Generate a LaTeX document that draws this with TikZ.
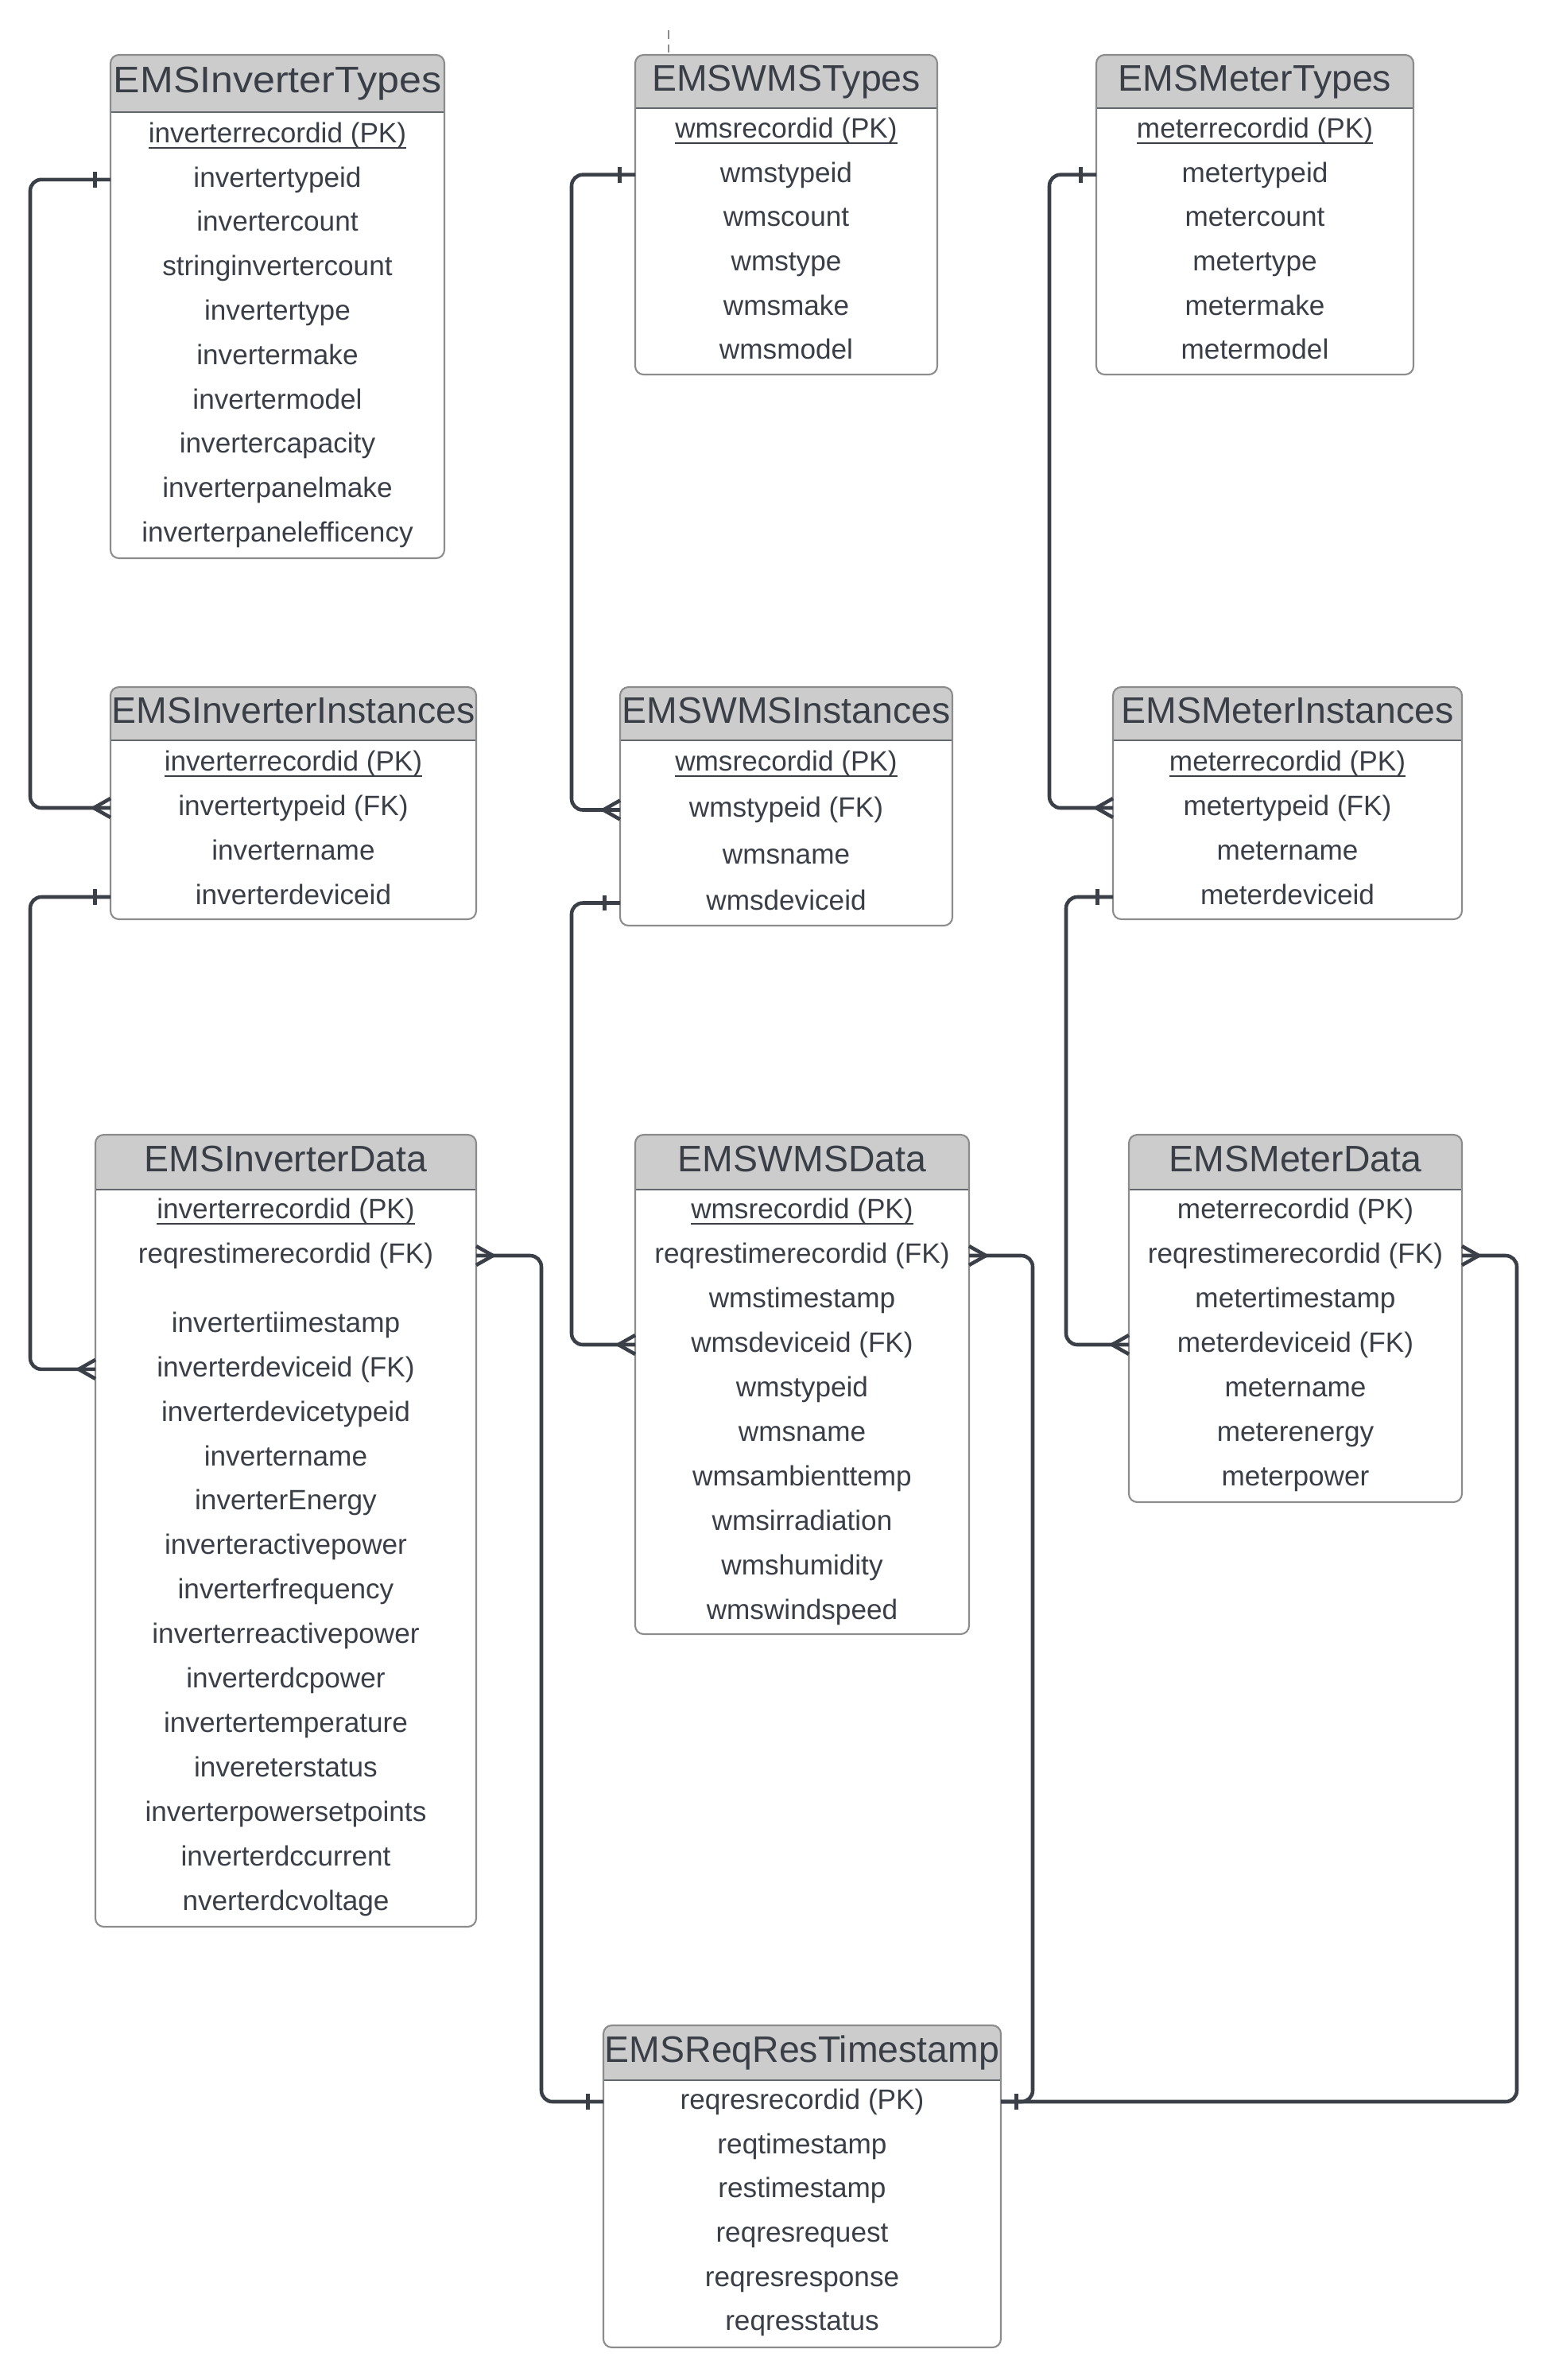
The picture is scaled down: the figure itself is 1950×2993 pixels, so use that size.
\documentclass[tikz,border=0pt]{standalone}
\usepackage{graphicx}
\usepackage{fontspec}
\setmainfont{Liberation Sans}
\usetikzlibrary{calc,decorations.markings}

\definecolor{linecol}{HTML}{3B4048}
\definecolor{textcol}{HTML}{3A3F47}
\definecolor{headfill}{HTML}{CCCCCC}
\definecolor{boxcol}{HTML}{8C8C8C}

% primary key, underlined close to the baseline
\newcommand{\pk}[1]{\setbox0\hbox{#1}\rlap{\rule[-2.1pt]{\wd0}{0.55pt}}\box0}

\tikzset{
  tablebox/.style={draw=boxcol, line width=0.6pt, rounded corners=3pt, fill=white,
    inner sep=0pt, outer sep=0pt, anchor=north west},
  headtext/.style={text=textcol, font=\fontsize{13.2}{15}\selectfont, inner sep=0pt,
    text height=9.6pt, text depth=2.8pt},
  rowtext/.style={text=textcol, font=\fontsize{10}{12}\selectfont, inner sep=0pt,
    text height=7.4pt, text depth=2.1pt},
  conn/.style={draw=linecol, line width=1.3pt, rounded corners=4pt},
  tipline/.style={draw=linecol, line width=1.3pt, sharp corners},
  onestart/.style={postaction={decorate, decoration={markings,
    mark=at position 0 with {\draw[tipline] (5.5pt,-2.8pt) -- (5.5pt,2.8pt);}}}},
  oneend/.style={postaction={decorate, decoration={markings,
    mark=at position 1 with {\draw[tipline] (-5.5pt,-2.8pt) -- (-5.5pt,2.8pt);}}}},
  manystart/.style={postaction={decorate, decoration={markings,
    mark=at position 0 with {\draw[tipline] (6pt,0) -- (0,3.4pt) (6pt,0) -- (0,-3.4pt);}}}},
  manyend/.style={postaction={decorate, decoration={markings,
    mark=at position 1 with {\draw[tipline] (-6pt,0) -- (0,3.4pt) (-6pt,0) -- (0,-3.4pt);}}}},
  stub/.style={draw=boxcol, line width=0.5pt, dash pattern=on 3pt off 2pt}
}

% table box: name, left, top, width, height, header height, title
\newcommand{\erdtable}[7]{%
  \node[tablebox, minimum width=#4*0.01cm, minimum height=#5*0.01cm,
    path picture={
      \fill[headfill, sharp corners] (path picture bounding box.north west)
        rectangle ($(path picture bounding box.north east)+(0,#6)$);
      \draw[linecol!80, line width=0.6pt, sharp corners]
        ($(path picture bounding box.north west)+(0,#6)$) -- ($(path picture bounding box.north east)+(0,#6)$);
    }] (#1) at (#2,#3) {};
  \node[headtext] (#1-head) at ($(#1.north)+(0,#6/2)$) {#7};
}

% rows: table, first index, offset of first row, spacing, list
\newcommand{\erdrows}[5]{%
  \foreach \txt [count=\i from #2] in {#5}
    \node[rowtext] (#1-\i) at ($(#1.north)+(0,{#3+(\i-#2)*#4})$) {\txt};
}

\begin{document}
\begin{tikzpicture}[x=0.01cm, y=-0.01cm]
  \useasboundingbox (0,0) rectangle (1950,2993);

  % types
  \erdtable{invtypes}{139}{69}{420}{633}{72}{\scalebox{1.08}[1]{EMSInverterTypes}}
  \erdrows{invtypes}{1}{101}{55.8}{\pk{inverterrecordid (PK)},invertertypeid,invertercount,
    stringinvertercount,invertertype,invertermake,invertermodel,invertercapacity,
    inverterpanelmake,inverterpanelefficency}

  \erdtable{wmstypes}{799}{69}{380}{402}{67}{EMSWMSTypes}
  \erdrows{wmstypes}{1}{95}{55.7}{\pk{wmsrecordid (PK)},wmstypeid,wmscount,wmstype,wmsmake,wmsmodel}

  \erdtable{metertypes}{1379}{69}{399}{402}{67}{EMSMeterTypes}
  \erdrows{metertypes}{1}{95}{55.7}{\pk{meterrecordid (PK)},metertypeid,metercount,metertype,
    metermake,metermodel}

  % instances
  \erdtable{invinst}{139}{864}{460}{292}{67}{EMSInverterInstances}
  \erdrows{invinst}{1}{96}{56}{\pk{inverterrecordid (PK)},invertertypeid (FK),invertername,inverterdeviceid}

  \erdtable{wmsinst}{780}{864}{418}{300}{67}{EMSWMSInstances}
  \erdrows{wmsinst}{1}{96}{58.5}{\pk{wmsrecordid (PK)},wmstypeid (FK),wmsname,wmsdeviceid}

  \erdtable{meterinst}{1400}{864}{439}{292}{67}{EMSMeterInstances}
  \erdrows{meterinst}{1}{96}{56}{\pk{meterrecordid (PK)},metertypeid (FK),metername,meterdeviceid}

  % data
  \erdtable{invdata}{120}{1427}{479}{996}{69}{EMSInverterData}
  \erdrows{invdata}{1}{96}{56}{\pk{inverterrecordid (PK)},reqrestimerecordid (FK)}
  \erdrows{invdata}{3}{239}{55.9}{invertertiimestamp,inverterdeviceid (FK),inverterdevicetypeid,
    invertername,inverterEnergy,inverteractivepower,inverterfrequency,inverterreactivepower,
    inverterdcpower,invertertemperature,invereterstatus,inverterpowersetpoints,
    inverterdccurrent,nverterdcvoltage}

  \erdtable{wmsdata}{799}{1427}{420}{628}{69}{EMSWMSData}
  \erdrows{wmsdata}{1}{96}{56}{\pk{wmsrecordid (PK)},reqrestimerecordid (FK),wmstimestamp,
    wmsdeviceid (FK),wmstypeid,wmsname,wmsambienttemp,wmsirradiation,wmshumidity,wmswindspeed}

  \erdtable{meterdata}{1420}{1427}{419}{462}{69}{EMSMeterData}
  \erdrows{meterdata}{1}{96}{56}{meterrecordid (PK),reqrestimerecordid (FK),metertimestamp,
    meterdeviceid (FK),metername,meterenergy,meterpower}

  \erdtable{reqres}{759}{2547}{500}{405}{69}{EMSReqResTimestamp}
  \erdrows{reqres}{1}{96}{55.7}{reqresrecordid (PK),reqtimestamp,restimestamp,reqresrequest,
    reqresresponse,reqresstatus}

  % bus lines
  \coordinate (businv) at (38,0);
  \coordinate (buswms) at (719,0);
  \coordinate (busmtype) at (1320,0);
  \coordinate (busminst) at (1341,0);
  \coordinate (businvdata) at (681,0);
  \coordinate (buswmsdata) at (1299,0);
  \coordinate (busmdata) at (1908,0);
  \coordinate (stub) at (841,38);

  \draw[stub] (stub) -- (stub |- wmstypes.north);

  % types -> instances
  \draw[conn, onestart, manyend] (invtypes.west |- invtypes-2) -- (invtypes-2 -| businv)
    -- (invinst-2 -| businv) -- (invinst.west |- invinst-2);
  \draw[conn, onestart, manyend] (wmstypes.west |- wmstypes-2) -- (wmstypes-2 -| buswms)
    -- (wmsinst-2 -| buswms) -- (wmsinst.west |- wmsinst-2);
  \draw[conn, onestart, manyend] (metertypes.west |- metertypes-2) -- (metertypes-2 -| busmtype)
    -- (meterinst-2 -| busmtype) -- (meterinst.west |- meterinst-2);

  % instances -> data
  \draw[conn, onestart, manyend] (invinst.west |- invinst-4) -- (invinst-4 -| businv)
    -- (invdata-4 -| businv) -- (invdata.west |- invdata-4);
  \draw[conn, onestart, manyend] (wmsinst.west |- wmsinst-4) -- (wmsinst-4 -| buswms)
    -- (wmsdata-4 -| buswms) -- (wmsdata.west |- wmsdata-4);
  \draw[conn, onestart, manyend] (meterinst.west |- meterinst-4) -- (meterinst-4 -| busminst)
    -- (meterdata-4 -| busminst) -- (meterdata.west |- meterdata-4);

  % data -> timestamp
  \draw[conn, manystart, oneend] (invdata.east |- invdata-2) -- (invdata-2 -| businvdata)
    -- (reqres-1 -| businvdata) -- (reqres.west |- reqres-1);
  \draw[conn, manystart, oneend] (wmsdata.east |- wmsdata-2) -- (wmsdata-2 -| buswmsdata)
    -- (reqres-1 -| buswmsdata) -- (reqres.east |- reqres-1);
  \draw[conn, manystart, oneend] (meterdata.east |- meterdata-2) -- (meterdata-2 -| busmdata)
    -- (reqres-1 -| busmdata) -- (reqres.east |- reqres-1);
\end{tikzpicture}
\end{document}
